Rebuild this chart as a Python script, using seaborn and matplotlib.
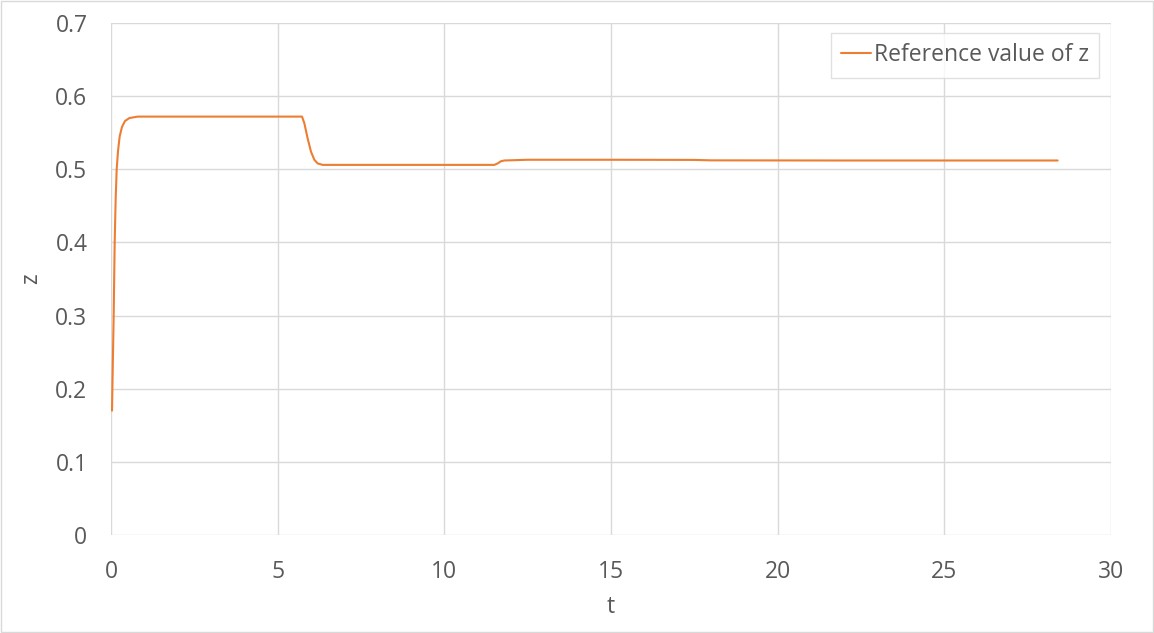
import numpy as np
import pandas as pd
import matplotlib.pyplot as plt
import seaborn as sns

# ── Data ─────────────────────────────────────────────────────────────────────
t_values = [0.03, 0.06, 0.08, 0.11, 0.14, 0.17, 0.21, 0.26, 0.33, 0.42, 0.55, 0.8, 1.5,
            3.0, 5.0, 5.73, 5.8, 5.9, 6.0, 6.1, 6.2, 6.35, 7.0, 9.0, 11.5,
            11.6, 11.7, 11.8, 12.5, 15.0, 17.5, 18.0, 22.0, 25.0, 28.4]
z_values = [0.17, 0.25, 0.30, 0.40, 0.46, 0.50, 0.525, 0.545, 0.558, 0.566, 0.570, 0.572, 0.572,
            0.572, 0.572, 0.572, 0.563, 0.542, 0.524, 0.513, 0.508, 0.506, 0.506, 0.506, 0.506,
            0.508, 0.511, 0.512, 0.513, 0.513, 0.5128, 0.5122, 0.512, 0.512, 0.512]
series_name = 'Reference value of z'
x_ticks = [0, 5, 10, 15, 20, 25, 30]
y_ticks = [0, 0.1, 0.2, 0.3, 0.4, 0.5, 0.6, 0.7]

df = pd.DataFrame({'t': t_values, 'z': z_values})

# ── Style ────────────────────────────────────────────────────────────────────
sns.set_style('white')
plt.rcParams['font.family'] = ['Open Sans', 'DejaVu Sans']
grey_text = '#595959'
grid_col = '#D9D9D9'
fs = 16.5

fig = plt.figure(figsize=(11.54, 6.33), dpi=100)
ax = fig.add_axes([0.0962, 0.1548, 0.8665, 0.8089])

sns.lineplot(data=df, x='t', y='z', ax=ax, color='#ED7D31', linewidth=1.5,
             label=series_name)

ax.set_xlim(0, 30)
ax.set_ylim(0, 0.7)
ax.set_xticks(x_ticks)
ax.set_yticks(y_ticks)
ax.set_xticklabels([str(v) for v in x_ticks])
ax.set_yticklabels(['0' if v == 0 else f'{v:.1f}' for v in y_ticks])
ax.grid(True, color=grid_col, linewidth=1)
ax.set_axisbelow(True)
for s in ax.spines.values():
    s.set_visible(False)
ax.tick_params(axis='x', length=0, labelsize=fs, labelcolor=grey_text, pad=18)
ax.tick_params(axis='y', length=0, labelsize=fs, labelcolor=grey_text, pad=17)
ax.set_xlabel('t', fontsize=fs, color=grey_text, labelpad=8)
ax.set_ylabel('z', fontsize=fs, color=grey_text, labelpad=9)

leg = ax.legend(loc='upper right', fontsize=fs, frameon=True, fancybox=False,
                handlelength=1.3, handletextpad=0.15, borderpad=0.45,
                bbox_to_anchor=(1.0, 1.003))
leg.get_frame().set_edgecolor(grid_col)
leg.get_frame().set_linewidth(1)
for txt in leg.get_texts():
    txt.set_color(grey_text)

# chart-area border like the reference
fig.patches.append(plt.Rectangle((0.001, 0.001), 0.998, 0.998, transform=fig.transFigure,
                                 fill=False, edgecolor=grid_col, linewidth=1))

fig.savefig('out.png', dpi=100)
